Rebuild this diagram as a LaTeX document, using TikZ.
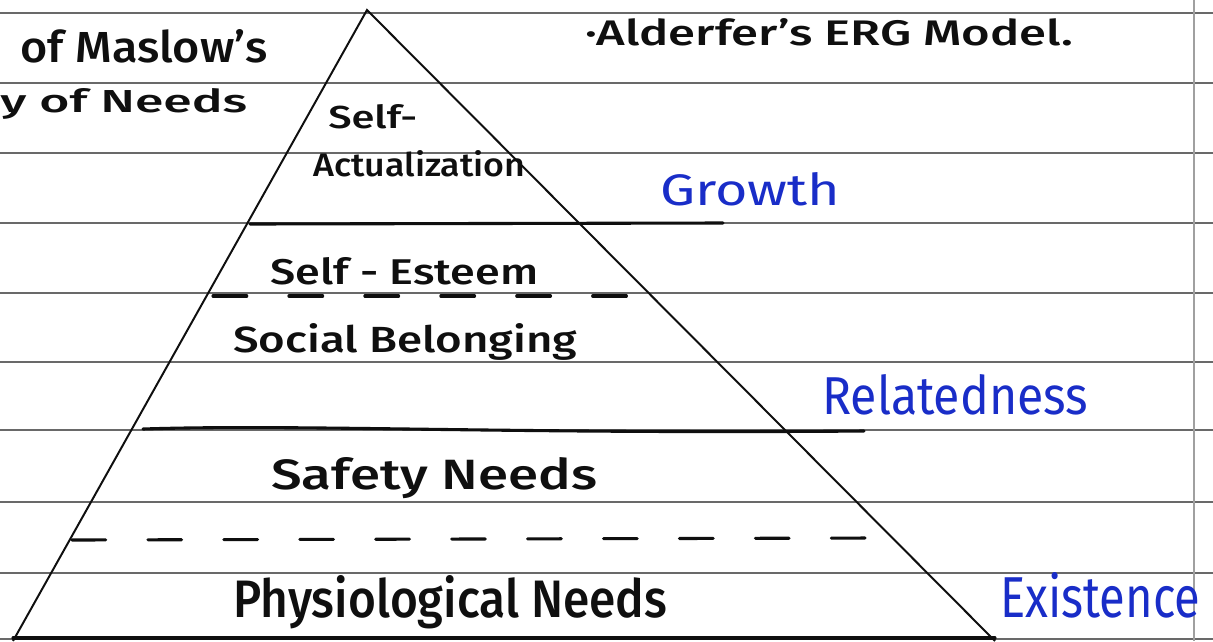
\documentclass[tikz,border=0pt]{standalone}
\usepackage{fontspec}
\setmainfont{Fira Sans}[UprightFont=* Medium]
\newfontfamily\thinink{Fira Sans}
\usepackage{graphicx}
\newlength\px
\setlength\px{0.025cm}
\definecolor{ink}{RGB}{15,15,15}
\definecolor{blueink}{RGB}{25,45,200}
\definecolor{ruleline}{RGB}{105,105,105}
\definecolor{marginline}{RGB}{160,160,160}
\newcommand{\hw}[3]{\resizebox{#1\px}{#2\px}{#3}}
\begin{document}
\begin{tikzpicture}[x=0.025cm,y=-0.025cm,
  rulestyle/.style={draw=ruleline,line width=1.3pt},
  marginstyle/.style={draw=marginline,line width=0.8pt},
  legstyle/.style={draw=ink,line width=1.4pt},
  penstyle/.style={draw=ink,line width=2.2pt,line cap=round},
  dashstyle/.style={penstyle,dash pattern=on 24pt off 30pt},
  blacktext/.style={inner sep=0pt,anchor=base west,text=ink},
  bluetext/.style={inner sep=0pt,anchor=base west,text=blueink,font=\thinink}]
\useasboundingbox (0,0) rectangle (1213,641);
\fill[white] (0,0) rectangle (1213,641);
% ruled notebook lines
\foreach \y in {13,83,153,223,293,362,430,502,573,639}
  \draw[rulestyle] (0,\y) -- (1213,\y);
\draw[marginstyle] (1194,0) -- (1194,641);
% pyramid
\coordinate (apex) at (367,10);
\coordinate (bl) at (13,641);
\coordinate (br) at (995,641);
\draw[legstyle] (bl) -- (apex) -- (br);
% level lines
\coordinate (l1a) at (250,224); \coordinate (l1b) at (723,223);
\draw[penstyle] (l1a) -- (l1b);
\coordinate (l2a) at (213,296); \coordinate (l2b) at (655,296);
\draw[dashstyle] (l2a) -- (l2b);
\coordinate (l3a) at (143,429); \coordinate (l3b) at (864,431);
\draw[penstyle] (l3a) .. controls (300,424) and (500,434) .. (l3b);
\coordinate (l4a) at (72,540); \coordinate (l4b) at (875,538);
\draw[dashstyle] (l4a) -- (l4b);
\coordinate (l5a) at (13,638); \coordinate (l5b) at (995,638);
\draw[penstyle] (l5a) -- (l5b);
% headings
\node[blacktext] (maslow1) at (20,62) {\hw{247}{33}{of Maslow's}};
\node[blacktext] (maslow2) at (0,112) {\hw{247}{24}{y of Needs}};
\node[blacktext] (erg) at (585,45) {\hw{488}{27}{·Alderfer's ERG Model.}};
% pyramid levels
\node[blacktext] (sa1) at (328,128) {\hw{89}{24}{Self-}};
\node[blacktext] (sa2) at (313,176) {\hw{212}{26}{Actualization}};
\node[blacktext] (se) at (270,284) {\hw{268}{27}{Self - Esteem}};
\node[blacktext] (sb) at (233,352) {\hw{344}{29}{Social Belonging}};
\node[blacktext] (sn) at (271,489) {\hw{326}{32}{Safety Needs}};
\node[blacktext] (pn) at (233,617) {\hw{434}{42}{Physiological Needs}};
% ERG labels
\node[bluetext] (growth) at (660,205) {\hw{180}{33}{Growth}};
\node[bluetext] (rel) at (822,414) {\hw{266}{40}{Relatedness}};
\node[bluetext] (exist) at (1000,617) {\hw{200}{45}{Existence}};
\end{tikzpicture}
\end{document}
